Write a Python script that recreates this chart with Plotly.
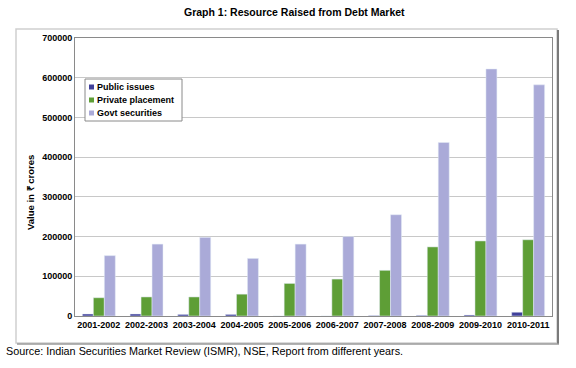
import plotly.graph_objects as go

years = ["2001-2002", "2002-2003", "2003-2004", "2004-2005", "2005-2006",
         "2006-2007", "2007-2008", "2008-2009", "2009-2010", "2010-2011"]
series_names = ["Public issues", "Private placement", "Govt securities"]
public_issues = [5000, 5000, 4000, 4000, 0, 0, 1000, 1500, 2500, 9500]
private_placement = [46000, 48000, 48000, 55000, 82000, 93000, 115000, 174000, 189000, 192000]
govt_securities = [152000, 181000, 198000, 145000, 181000, 200000, 255000, 437000, 622000, 582000]
colors = ["#40409A", "#5E9E36", "#AAAAD8"]

W, H = 576, 368
L, R, T, B = 75, 24, 38, 52
pw, ph = W - L - R, H - T - B

def px(x):
    return (x - L) / pw

def py(y):
    return (H - B - y) / ph

font = "Liberation Sans, Arial, sans-serif"

fig = go.Figure()
for name, vals, c in zip(series_names, [public_issues, private_placement, govt_securities], colors):
    fig.add_trace(go.Bar(name=name, x=years, y=vals, marker_color=c))

shapes = [
    dict(type="rect", xref="paper", yref="paper",
         x0=px(16), x1=px(557), y0=py(343), y1=py(29),
         line=dict(color="#CFCFCF", width=1.5), layer="below"),
    dict(type="line", xref="paper", yref="paper",
         x0=px(558), x1=px(558), y0=py(344), y1=py(30),
         line=dict(color="#7a7a7a", width=2)),
    dict(type="line", xref="paper", yref="paper",
         x0=px(17), x1=px(559), y0=py(344), y1=py(344),
         line=dict(color="#9a9a9a", width=1.5)),
    # legend box
    dict(type="rect", xref="paper", yref="paper",
         x0=px(85), x1=px(182), y0=py(121), y1=py(79),
         line=dict(color="#8a8a8a", width=1), fillcolor="white"),
]
annotations = [
    dict(text="Graph 1: Resource Raised from Debt Market", xref="paper", yref="paper",
         x=px(294), y=py(12), xanchor="center", yanchor="middle", showarrow=False,
         font=dict(family=font, size=10.5, weight="bold")),
    dict(text="Source: Indian Securities Market Review (ISMR), NSE, Report from different years.",
         xref="paper", yref="paper", x=px(4), y=py(351), xanchor="left", yanchor="middle",
         showarrow=False, font=dict(family=font, size=10.8)),
    dict(text="Value in ₹ crores", xref="paper", yref="paper", x=px(30), y=py(193),
         xanchor="center", yanchor="middle", textangle=-90, showarrow=False,
         font=dict(family=font, size=9.5, weight="bold")),
]
rows = [87, 100, 113]
for name, c, ry in zip(series_names, colors, rows):
    shapes.append(dict(type="rect", xref="paper", yref="paper",
                       x0=px(89), x1=px(94), y0=py(ry + 2.5), y1=py(ry - 2.5),
                       line=dict(width=0), fillcolor=c))
    annotations.append(dict(text=name, xref="paper", yref="paper", x=px(95), y=py(ry),
                            xanchor="left", yanchor="middle", showarrow=False,
                            font=dict(family=font, size=9, weight="bold")))

fig.update_layout(
    width=W, height=H,
    margin=dict(l=L, r=R, t=T, b=B),
    paper_bgcolor="white", plot_bgcolor="white",
    barmode="group", bargap=0.31, bargroupgap=0,
    font=dict(family=font, size=9, color="black"),
    showlegend=False,
    xaxis=dict(showgrid=False, showline=True, linecolor="#8a8a8a", mirror=True,
               ticks="", tickfont=dict(family=font, size=9, weight="bold")),
    yaxis=dict(range=[0, 700000], dtick=100000, showgrid=True, gridcolor="#C8C8C8",
               showline=True, linecolor="#8a8a8a", mirror=True, ticks="",
               tickformat="d", zeroline=False,
               tickfont=dict(family=font, size=9, weight="bold")),
    shapes=shapes,
    annotations=annotations,
)

fig.write_html("out.html", config={"displayModeBar": False},
               post_script="document.body.style.margin='0';")
